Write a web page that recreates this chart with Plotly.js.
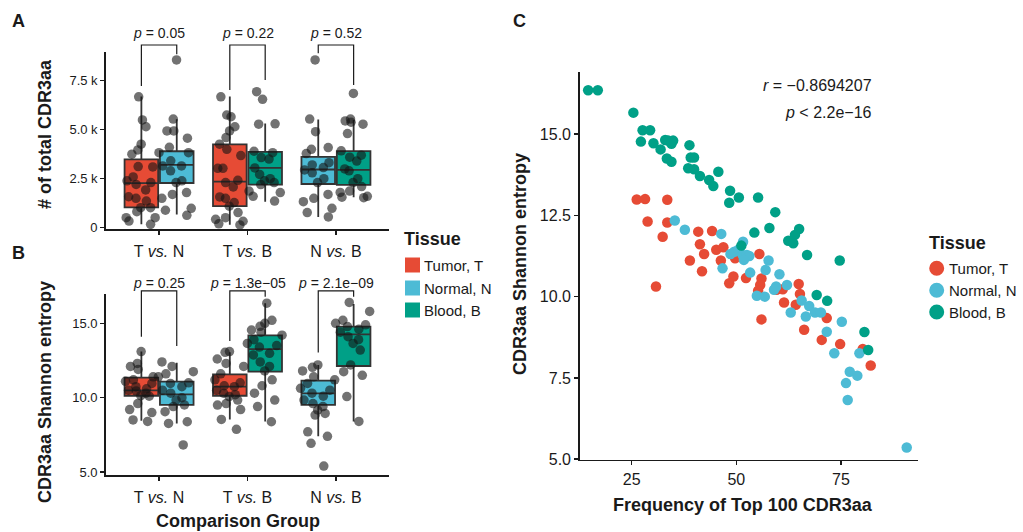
<!DOCTYPE html>
<html>
<head>
<meta charset="utf-8">
<script src="https://cdn.plot.ly/plotly-3.0.1.min.js"></script>
<style>html,body{margin:0;padding:0;background:#fff;}#chart{width:1023px;height:532px;}</style>
</head>
<body>
<div id="chart"></div>
<script>
// ---------- categories / labels ----------
const groupLabels = ['T <i>vs.</i> N', 'T <i>vs.</i> B', 'N <i>vs.</i> B'];
const tissueNames = ['Tumor, T', 'Normal, N', 'Blood, B'];
const tissueColors = ['#E64B35', '#4DBBD5', '#00A087'];
const groupPairs = [[0, 1], [0, 2], [1, 2]];   // tissue index of left / right box in each group

// ---------- Panel A: # of total CDR3aa (box stats, order g1L,g1R,g2L,g2R,g3L,g3R) ----------
const countsQ1     = [1040, 2280, 1100, 2200, 2230, 2190];
const countsMedian = [2270, 3210, 2350, 3050, 2970, 2950];
const countsQ3     = [3490, 3900, 4250, 3870, 3610, 3910];
const countsLower  = [170, 680, 150, 1320, 550, 1560];
const countsUpper  = [6700, 5530, 6700, 5320, 5520, 5500];
const countsTN_T = [6680, 5500, 5150, 4260, 3970, 3750, 3120, 3100, 2590, 2390, 2300, 2210, 1930, 1580, 1500, 1360, 1020, 1020, 820, 510, 510, 340, 170];
const countsTN_N = [8560, 5540, 4940, 4940, 4570, 4100, 3830, 3830, 3410, 3150, 3150, 2900, 2390, 2300, 1700, 1790, 1500, 990, 890, 630];
const countsTB_T = [6680, 5660, 5750, 5150, 4940, 4600, 4260, 4000, 3680, 3030, 3030, 2420, 2300, 2080, 1570, 1500, 1280, 1100, 770, 510, 430, 200, 140, 330];
const countsTB_B = [6940, 6550, 5300, 5280, 3900, 3830, 3580, 3500, 3050, 2720, 2500, 2300, 2390, 2200, 1790, 1870, 1600, 1360];
const countsNB_N = [8560, 5540, 4900, 4090, 4000, 3780, 3320, 3200, 3070, 2950, 2800, 2500, 2300, 1700, 1500, 1330, 990, 770, 550];
const countsNB_B = [6850, 5540, 5450, 5280, 5380, 4800, 3920, 3700, 3600, 3400, 3000, 2900, 2500, 2300, 2100, 1870, 1800, 1600, 1530, 1560];
const countsBracketLegs = [[7230, 8850], [7030, 7540], [8900, 7280]];
const countsBracketTop = 9320;
const countsPLabelY = 9930;
const countsPText = ['0.05', '0.22', '0.52'];
const countsTickVals = [0, 2500, 5000, 7500];
const countsTickText = ['0', '2.5 k', '5.0 k', '7.5 k'];

// ---------- Panel B: CDR3aa Shannon entropy ----------
const entQ1     = [10.13, 9.51, 10.13, 11.75, 9.51, 12.13];
const entMedian = [10.49, 10.22, 10.74, 13.27, 10.29, 14.26];
const entQ3     = [11.35, 11.08, 11.57, 14.19, 11.14, 14.78];
const entLower  = [8.45, 8.27, 8.54, 8.40, 7.40, 8.40];
const entUpper  = [13.10, 12.35, 13.05, 16.35, 12.20, 16.30];
const entTN_T = [13.1, 12.3, 12.1, 11.9, 11.4, 11.1, 10.96, 10.74, 10.6, 10.45, 10.3, 10.13, 10.1, 9.6, 9.2, 9.0, 8.5, 8.4, 11.2, 10.5];
const entTN_N = [12.4, 12.1, 11.75, 11.6, 11.4, 11.0, 10.96, 10.74, 10.5, 10.3, 10.0, 9.84, 9.51, 9.4, 9.06, 8.38, 8.27, 6.82];
const entTB_T = [13.1, 13.05, 12.6, 12.3, 12.1, 11.6, 11.2, 11.0, 10.74, 10.5, 10.3, 10.07, 9.84, 9.6, 9.5, 9.2, 8.54, 7.87, 10.2, 10.8];
const entTB_B = [16.35, 15.2, 15.0, 14.8, 14.55, 14.4, 14.2, 13.9, 13.65, 13.5, 13.4, 12.98, 12.87, 12.4, 12.1, 11.8, 11.2, 10.8, 10.3, 9.84, 9.4, 8.38];
const entNB_N = [12.2, 12.04, 11.8, 11.4, 11.2, 10.96, 10.63, 10.5, 10.3, 10.1, 9.84, 9.6, 9.4, 9.17, 8.94, 8.83, 7.7, 7.4, 6.93, 5.4];
const entNB_B = [16.4, 15.8, 15.2, 15.0, 14.9, 14.78, 14.6, 14.4, 14.1, 13.9, 13.65, 13.2, 12.2, 11.75, 11.5, 10.07, 8.4];
const entBracketLegs = [[14.10, 13.48], [13.81, 16.79], [13.03, 16.79]];
const entBracketTop = 17.18;
const entPLabelY = 17.73;
const entPText = ['0.25', '1.3e\u221205', '2.1e\u221209'];
const entTickVals = [5, 10, 15];
const entTickText = ['5.0', '10.0', '15.0'];

// ---------- Panel C: scatter ----------
const freqTumor = [26.2, 28.2, 33.5, 28.8, 33.5, 32.4, 40.9, 44.2, 41.3, 42.3, 38.9, 45.2, 46.9, 46.3, 41.8, 49.7, 49.3, 48.3, 52.3, 30.8, 55.5, 56.0, 55.7, 55.2, 56.0, 59.6, 61.1, 61.4, 64.9, 65.2, 64.2, 66.2, 71.6, 70.4, 74.8, 80.2, 82.1];
const entTumor  = [12.99, 13.00, 12.98, 12.31, 12.28, 11.84, 12.00, 12.02, 11.61, 11.31, 11.11, 11.44, 11.52, 11.11, 10.78, 11.18, 10.62, 10.41, 10.57, 10.31, 11.31, 10.56, 10.36, 10.18, 9.30, 10.21, 10.23, 9.82, 10.39, 10.08, 9.75, 8.98, 9.34, 8.67, 8.54, 8.39, 7.88];
const freqNormal = [35.3, 37.7, 46.4, 51.6, 48.6, 49.5, 50.5, 51.5, 52.5, 53.1, 51.8, 46.7, 57.7, 57.0, 53.3, 60.3, 62.1, 59.5, 59.0, 54.9, 56.8, 65.6, 67.4, 68.8, 70.2, 66.6, 63.0, 75.2, 71.6, 73.4, 79.4, 77.1, 78.9, 76.2, 76.6, 90.7];
const entNormal  = [12.34, 12.06, 11.93, 11.69, 11.31, 11.38, 11.44, 11.28, 11.28, 11.25, 11.13, 10.87, 11.11, 10.82, 10.74, 10.69, 10.36, 10.31, 10.21, 10.03, 10.00, 9.88, 9.71, 9.51, 9.51, 9.39, 9.51, 9.23, 8.92, 8.26, 8.26, 7.69, 7.57, 7.34, 6.82, 5.36];
const freqBlood = [14.6, 16.9, 25.4, 27.6, 29.4, 27.2, 30.2, 31.9, 33.0, 33.7, 34.9, 34.5, 33.4, 34.5, 38.8, 39.1, 39.9, 38.5, 39.9, 41.3, 43.5, 44.5, 45.7, 48.5, 48.3, 50.6, 55.2, 59.3, 57.9, 54.3, 51.2, 65.0, 64.0, 62.4, 63.6, 66.9, 74.7, 69.2, 71.7, 80.6, 81.5];
const entBlood  = [16.35, 16.35, 15.66, 15.12, 15.12, 14.77, 14.72, 14.53, 14.82, 14.80, 14.80, 14.70, 14.25, 14.15, 14.66, 14.28, 14.28, 13.95, 13.92, 13.71, 13.59, 13.40, 13.84, 13.26, 12.89, 13.05, 13.05, 12.60, 12.11, 11.97, 11.57, 12.08, 11.90, 11.72, 11.64, 11.28, 11.11, 10.05, 9.87, 8.91, 8.36];
const corrText = ['<i>r</i> = \u22120.8694207', '<i>p</i> &lt; 2.2e\u221216'];
const scatterXTicks = [25, 50, 75];
const scatterYTicks = [5, 7.5, 10, 12.5, 15];

// ---------- geometry (layout only) ----------
const W = 1023, H = 532;
const fx = p => p / W;
const fy = p => 1 - p / H;
const DODGE = 0.2, BOXW = 0.38, JITW = 0.44;
const FONT = 'Liberation Sans, Arial, Helvetica, sans-serif';
const INK = '#1a1a1a';

const axBase = {
  showline: true, linecolor: INK, linewidth: 1.8,
  ticks: 'outside', ticklen: 4, tickwidth: 1.5, tickcolor: INK,
  showgrid: false, zeroline: false, fixedrange: true,
  tickfont: {family: FONT, size: 13, color: INK}
};

const layout = {
  width: W, height: H,
  margin: {l: 0, r: 0, t: 0, b: 0},
  paper_bgcolor: '#ffffff', plot_bgcolor: '#ffffff',
  font: {family: FONT, color: INK},
  showlegend: false,
  boxmode: 'overlay',
  xaxis: Object.assign({}, axBase, {domain: [fx(106), fx(389)], range: [0.4, 3.6], anchor: 'y',
    tickvals: [1, 2, 3], ticktext: groupLabels, tickfont: {family: FONT, size: 16, color: INK}, ticklabelstandoff: 3}),
  yaxis: Object.assign({}, axBase, {domain: [fy(229), fy(52)], range: [-66, 8964], anchor: 'x',
    tickvals: countsTickVals, ticktext: countsTickText}),
  xaxis2: Object.assign({}, axBase, {domain: [fx(106), fx(389)], range: [0.4, 3.6], anchor: 'y2',
    tickvals: [1, 2, 3], ticktext: groupLabels, tickfont: {family: FONT, size: 16, color: INK}, ticklabelstandoff: 3}),
  yaxis2: Object.assign({}, axBase, {domain: [fy(475), fy(294)], range: [4.8, 16.97], anchor: 'x2',
    tickvals: entTickVals, ticktext: entTickText}),
  xaxis3: Object.assign({}, axBase, {domain: [fx(580), fx(918)], range: [12.65, 93.4], anchor: 'y3',
    tickvals: scatterXTicks, tickfont: {family: FONT, size: 16, color: INK}}),
  yaxis3: Object.assign({}, axBase, {domain: [fy(459.5), fy(71.7)], range: [4.99, 16.92], anchor: 'x3',
    tickvals: scatterYTicks, tickformat: '.1f', tickfont: {family: FONT, size: 16, color: INK}}),
  shapes: [],
  annotations: []
};

function paperY(axKey, v) {
  const ax = layout[axKey];
  return ax.domain[0] + (v - ax.range[0]) / (ax.range[1] - ax.range[0]) * (ax.domain[1] - ax.domain[0]);
}

const traces = [];

function addBoxPanel(xa, ya, q1, med, q3, lo, hi, pointSets, legs, top, labelY, pText) {
  // boxes
  for (let g = 0; g < 3; g++) {
    for (let s = 0; s < 2; s++) {
      const k = g * 2 + s;
      const pos = (g + 1) + (s === 0 ? -DODGE : DODGE);
      const tissue = groupPairs[g][s];
      traces.push({
        type: 'box', xaxis: xa, yaxis: ya, x: [pos],
        q1: [q1[k]], median: [med[k]], q3: [q3[k]], lowerfence: [lo[k]], upperfence: [hi[k]],
        width: BOXW, whiskerwidth: 0, boxpoints: false,
        fillcolor: tissueColors[tissue], line: {color: '#333333', width: 1.8},
        hoverinfo: 'skip', showlegend: false
      });
    }
  }
  // jittered points on top
  for (let g = 0; g < 3; g++) {
    for (let s = 0; s < 2; s++) {
      const k = g * 2 + s;
      const pos = (g + 1) + (s === 0 ? -DODGE : DODGE);
      traces.push({
        type: 'box', xaxis: xa, yaxis: ya, x0: pos, y: pointSets[k],
        width: JITW, whiskerwidth: 0, boxpoints: 'all', jitter: 1, pointpos: 0,
        fillcolor: 'rgba(0,0,0,0)', line: {color: 'rgba(0,0,0,0)', width: 0},
        marker: {color: 'rgba(20,20,20,0.6)', size: 9.5, line: {width: 0}},
        hoverinfo: 'skip', showlegend: false
      });
    }
  }
  // significance brackets
  const yKey = ya === 'y' ? 'yaxis' : 'yaxis' + ya.slice(1);
  for (let g = 0; g < 3; g++) {
    const xl = (g + 1) - DODGE, xr = (g + 1) + DODGE;
    const yt = paperY(yKey, top);
    const line = {color: INK, width: 1.2};
    layout.shapes.push({type: 'path', xref: xa, yref: 'paper',
      path: `M ${xl},${paperY(yKey, legs[g][0])} L ${xl},${yt} L ${xr},${yt} L ${xr},${paperY(yKey, legs[g][1])}`,
      line: line});
    layout.annotations.push({xref: xa, yref: 'paper', x: g + 1, y: paperY(yKey, labelY),
      text: '<i>p</i> = ' + pText[g], showarrow: false, xanchor: 'center', yanchor: 'middle',
      font: {family: FONT, size: 14, color: INK}});
  }
}

addBoxPanel('x', 'y', countsQ1, countsMedian, countsQ3, countsLower, countsUpper,
  [countsTN_T, countsTN_N, countsTB_T, countsTB_B, countsNB_N, countsNB_B],
  countsBracketLegs, countsBracketTop, countsPLabelY, countsPText);
addBoxPanel('x2', 'y2', entQ1, entMedian, entQ3, entLower, entUpper,
  [entTN_T, entTN_N, entTB_T, entTB_B, entNB_N, entNB_B],
  entBracketLegs, entBracketTop, entPLabelY, entPText);

// scatter panel
const scatterX = [freqTumor, freqNormal, freqBlood];
const scatterY = [entTumor, entNormal, entBlood];
for (let t = 0; t < 3; t++) {
  traces.push({
    type: 'scatter', mode: 'markers', xaxis: 'x3', yaxis: 'y3',
    x: scatterX[t], y: scatterY[t], name: tissueNames[t],
    marker: {color: tissueColors[t], size: 10.5, line: {width: 0}},
    hoverinfo: 'skip', showlegend: false
  });
}

// text: panel letters, axis titles, stats
function note(x, y, text, size, extra) {
  layout.annotations.push(Object.assign({xref: 'paper', yref: 'paper', x: fx(x), y: fy(y), text: text,
    showarrow: false, xanchor: 'center', yanchor: 'middle', font: {family: FONT, size: size, color: INK}}, extra || {}));
}
note(18, 21, '<b>A</b>', 18);
note(18, 253, '<b>B</b>', 18);
note(519, 21, '<b>C</b>', 18);
note(45, 134, '<b># of total CDR3aa</b>', 18, {textangle: -90});
note(45, 392, '<b>CDR3aa Shannon entropy</b>', 18, {textangle: -90});
note(238, 521, '<b>Comparison Group</b>', 18);
note(520, 264, '<b>CDR3aa Shannon entropy</b>', 18, {textangle: -90});
note(743, 505, '<b>Frequency of Top 100 CDR3aa</b>', 18);
note(874, 85, corrText[0], 16, {xanchor: 'right'});
note(874, 112.5, corrText[1], 16, {xanchor: 'right'});

// manual legends
note(402, 239, '<b>Tissue</b>', 18, {xanchor: 'left'});
note(926.5, 242.5, '<b>Tissue</b>', 18, {xanchor: 'left'});
const legRows1 = [265, 288, 310];
const legRows2 = [268.3, 290.3, 312];
for (let t = 0; t < 3; t++) {
  layout.shapes.push({type: 'rect', xref: 'paper', yref: 'paper',
    x0: fx(405), x1: fx(420), y0: fy(legRows1[t] + 7.5), y1: fy(legRows1[t] - 7.5),
    fillcolor: tissueColors[t], line: {width: 0}});
  note(422, legRows1[t], tissueNames[t], 15, {xanchor: 'left'});
  layout.shapes.push({type: 'circle', xref: 'paper', yref: 'paper',
    x0: fx(929.2), x1: fx(944.2), y0: fy(legRows2[t] + 7.5), y1: fy(legRows2[t] - 7.5),
    fillcolor: tissueColors[t], line: {width: 0}});
  note(947, legRows2[t], tissueNames[t], 15, {xanchor: 'left'});
}

Plotly.newPlot('chart', traces, layout, {staticPlot: true, displayModeBar: false});
</script>
</body>
</html>
